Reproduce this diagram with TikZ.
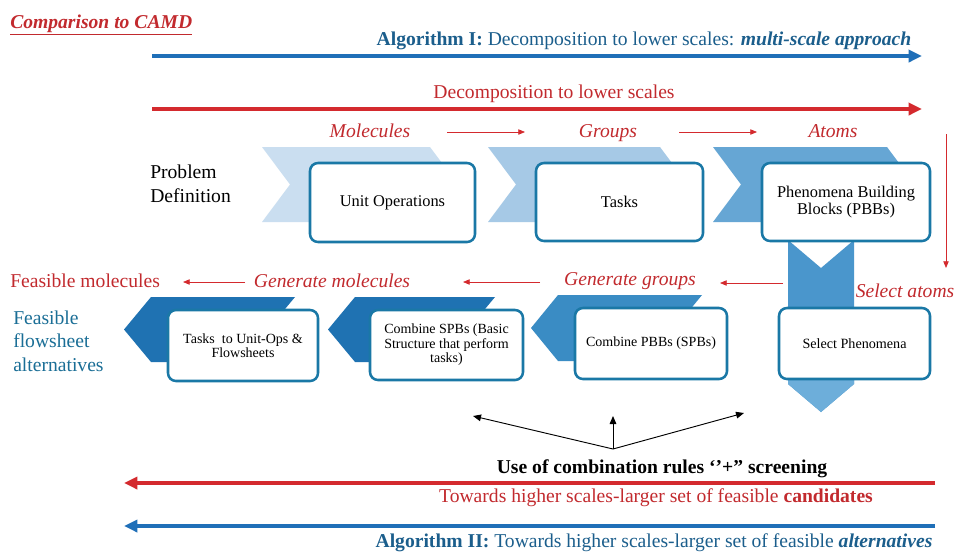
\documentclass[tikz,border=0pt]{standalone}
\usepackage{fontspec}
\setmainfont{Liberation Serif}
\usetikzlibrary{arrows.meta}
\definecolor{cred}{HTML}{D42A2E}
\definecolor{tred}{HTML}{C22A2E}
\definecolor{cblue}{HTML}{1F6FB8}
\definecolor{tblue}{HTML}{1B5E8C}
\definecolor{tteal}{HTML}{1A6E96}
\definecolor{bord}{HTML}{1A78A6}
\definecolor{chA}{HTML}{CADEF0}
\definecolor{chB}{HTML}{A6C9E6}
\definecolor{chC}{HTML}{66A6D4}
\definecolor{chD}{HTML}{4A96CC}
\definecolor{chE}{HTML}{6DAEDA}
\definecolor{chL}{HTML}{1F72B2}
\definecolor{chM}{HTML}{3A8CC4}
\begin{document}
\begin{tikzpicture}[x=0.75pt,y=-0.75pt,
  box/.style={draw=bord, line width=1.9pt, rounded corners=6pt, fill=white, align=center, inner sep=0pt, font=\fontsize{12.3}{13.2}\selectfont},
  sbox/.style={box, font=\fontsize{10.5}{10.8}\selectfont},
  bw/.style={minimum width={#1*0.75pt}},
  bh/.style={minimum height={#1*0.75pt}},
  lbl/.style={font=\fontsize{14.7}{16}\selectfont, inner sep=0pt, anchor=base},
  redlbl/.style={lbl, text=tred, font=\fontsize{14.7}{16}\selectfont\itshape},
  bigarrow/.style={line width=3pt, -{Triangle[length=10pt,width=9pt]}},
  thinarrow/.style={draw=cred, line width=0.6pt, -{Triangle[length=5pt,width=4pt]}},
  blackarrow/.style={draw=black, line width=0.7pt, -{Triangle[length=6pt,width=5pt]}}
]
\useasboundingbox (0,0) rectangle (956,551);
\fill[white] (0,0) rectangle (956,551);

% title
\node[lbl, anchor=base west, text=tred, font=\fontsize{14.7}{16}\selectfont\bfseries\itshape] (title) at (10,28) {\underline{Comparison to CAMD}};

% top blue arrow
\coordinate (b1s) at (152,56);
\coordinate (b1e) at (922,56);
\draw[bigarrow, cblue] (b1s) -- (b1e);
\node[lbl, text=tblue] (alg1) at (644,45) {\textbf{Algorithm I:} Decomposition to lower scales: \textbf{\textit{multi-scale approach}}};

% top red arrow
\coordinate (r1s) at (152,109);
\coordinate (r1e) at (922,109);
\draw[bigarrow, cred] (r1s) -- (r1e);
\node[lbl, text=tred] (dec) at (554,98) {Decomposition to lower scales};

% scale labels
\node[redlbl] (mol) at (370,137) {Molecules};
\node[redlbl] (grp) at (608,137) {Groups};
\node[redlbl] (atm) at (833,137) {Atoms};
\coordinate (m1) at (447,132); \coordinate (m2) at (525,132);
\coordinate (g1) at (679,132); \coordinate (g2) at (757,132);
\draw[thinarrow] (m1) -- (m2);
\draw[thinarrow] (g1) -- (g2);
\coordinate (v1) at (946,134); \coordinate (v2) at (946,268);
\draw[thinarrow] (v1) -- (v2);

% problem definition
\node[lbl, anchor=base west, align=left] (pd1) at (150,178) {Problem};
\node[lbl, anchor=base west, align=left] (pd2) at (150,202) {Definition};

% top chevrons
\fill[chA] (262,147) -- (430,147) -- (458,184.5) -- (430,222) -- (262,222) -- (290,184.5) -- cycle;
\fill[chB] (488,147) -- (660,147) -- (688,184.5) -- (660,222) -- (488,222) -- (516,184.5) -- cycle;
\fill[chC] (713,147) -- (887,147) -- (915,184.5) -- (887,222) -- (713,222) -- (741,184.5) -- cycle;

% down chevron
\fill[chD] (788,240) -- (821,268) -- (854,240) -- (854,384) -- (821,412) -- (788,384) -- cycle;
\fill[chE] (788,380) -- (854,380) -- (854,384) -- (821,412) -- (788,384) -- cycle;

% top boxes
\node[box, bw=165, bh=79] (uo) at (392.5,202.5) {Unit Operations};
\node[box, bw=167, bh=78] (tk) at (619.5,202) {Tasks};
\node[box, bw=168, bh=78] (pbb) at (846,202) {Phenomena Building\\Blocks (PBBs)};

% bottom labels
\node[redlbl] (sa) at (905,297) {Select atoms};
\node[redlbl] (gg) at (630,285) {Generate groups};
\node[redlbl] (gm) at (332,287) {Generate molecules};
\node[lbl, anchor=base west, text=tred] (fm) at (10,287) {Feasible molecules};
\coordinate (a1) at (783,283); \coordinate (a2) at (720,283);
\coordinate (a3) at (540,282); \coordinate (a4) at (463,282);
\coordinate (a5) at (245,282); \coordinate (a6) at (183,282);
\draw[thinarrow] (a1) -- (a2);
\draw[thinarrow] (a3) -- (a4);
\draw[thinarrow] (a5) -- (a6);

\node[lbl, anchor=base west, text=tteal] (ff1) at (13,324) {Feasible};
\node[lbl, anchor=base west, text=tteal] (ff2) at (13,347) {flowsheet};
\node[lbl, anchor=base west, text=tteal] (ff3) at (13,371) {alternatives};

% left chevrons
\fill[chL] (124,329.5) -- (151,297) -- (295,297) -- (268,329.5) -- (295,362) -- (151,362) -- cycle;
\fill[chL] (328,329.5) -- (355,297) -- (495,297) -- (468,329.5) -- (495,362) -- (355,362) -- cycle;
\fill[chM] (531,328) -- (558,295) -- (702,295) -- (675,328) -- (702,361) -- (558,361) -- cycle;

% bottom boxes
\node[box, bw=151, bh=71, font=\fontsize{10.6}{11}\selectfont] (sp) at (854.5,343.5) {Select Phenomena};
\node[sbox, bw=152, bh=71] (cp) at (651,343.5) {Combine PBBs (SPBs)};
\node[sbox, bw=153, bh=70] (cs) at (446.5,345) {Combine SPBs (Basic\\Structure that perform\\tasks)};
\node[sbox, bw=150, bh=71] (tu) at (243,345.5) {Tasks\ \ to Unit-Ops \&\\Flowsheets};

% fork arrows
\coordinate (fk) at (613,449);
\coordinate (fl) at (473,416);
\coordinate (fu) at (613,416);
\coordinate (fr) at (744,413);
\draw[blackarrow] (fk) -- (fl);
\draw[blackarrow] (fk) -- (fu);
\draw[blackarrow] (fk) -- (fr);
\node[lbl, font=\fontsize{14.7}{16}\selectfont\bfseries] (ucr) at (662,473) {Use of combination rules ‘’+” screening};

% bottom arrows
\coordinate (r2s) at (935,483);
\coordinate (r2e) at (124,483);
\draw[bigarrow, cred] (r2s) -- (r2e);
\node[lbl, text=tred] (tw) at (656,502) {Towards higher scales-larger set of feasible \textbf{candidates}};
\coordinate (b2s) at (935,526);
\coordinate (b2e) at (124,526);
\draw[bigarrow, cblue] (b2s) -- (b2e);
\node[lbl, text=tblue] (alg2) at (654,547) {\textbf{Algorithm II:} Towards higher scales-larger set of feasible \textbf{\textit{alternatives}}};
\end{tikzpicture}
\end{document}
